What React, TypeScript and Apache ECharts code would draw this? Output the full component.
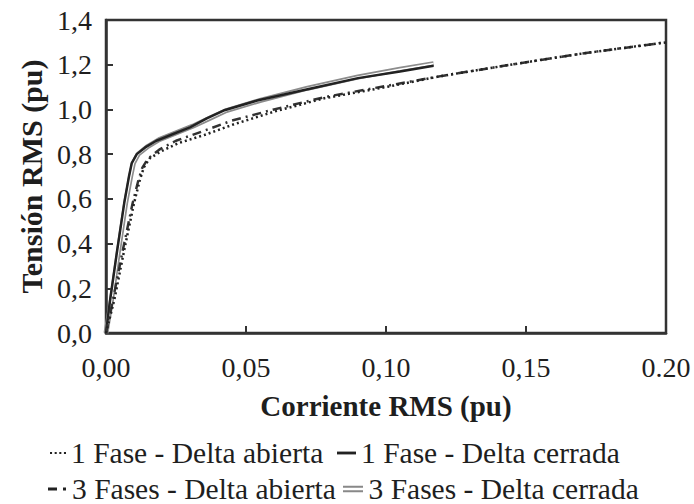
import React, { useEffect, useRef } from "react";
import * as echarts from "echarts";

const xTickLabels = ["0,00", "0,05", "0,10", "0,15", "0.20"];
const yTickLabels = ["0,0", "0,2", "0,4", "0,6", "0,8", "1,0", "1,2", "1,4"];

const corriente1FaseAbierta = [0, 0.003, 0.0065, 0.01, 0.012, 0.0135, 0.0155, 0.02, 0.026, 0.035, 0.046, 0.06, 0.078, 0.1, 0.12, 0.147, 0.17, 0.2];
const tension1FaseAbierta = [0, 0.15, 0.37, 0.58, 0.68, 0.74, 0.78, 0.815, 0.85, 0.885, 0.935, 0.99, 1.05, 1.1, 1.15, 1.205, 1.25, 1.3];

const corriente3FasesAbierta = [0, 0.0025, 0.006, 0.0095, 0.0115, 0.013, 0.015, 0.019, 0.025, 0.034, 0.045, 0.06, 0.078, 0.1, 0.12, 0.147, 0.17, 0.2];
const tension3FasesAbierta = [0, 0.15, 0.37, 0.58, 0.68, 0.74, 0.78, 0.82, 0.86, 0.9, 0.95, 1.0, 1.055, 1.105, 1.15, 1.205, 1.25, 1.3];

const corriente1FaseCerrada = [0, 0.0015, 0.004, 0.0065, 0.0082, 0.0092, 0.011, 0.014, 0.018, 0.024, 0.03, 0.036, 0.042, 0.054, 0.072, 0.09, 0.105, 0.117];
const tension1FaseCerrada = [0, 0.15, 0.37, 0.58, 0.7, 0.76, 0.8, 0.83, 0.86, 0.89, 0.92, 0.96, 0.995, 1.04, 1.09, 1.14, 1.17, 1.195];

const corriente3FasesCerrada = [0, 0.002, 0.0045, 0.007, 0.0088, 0.0098, 0.0115, 0.015, 0.019, 0.025, 0.031, 0.037, 0.043, 0.055, 0.072, 0.09, 0.105, 0.117];
const tension3FasesCerrada = [0, 0.15, 0.37, 0.58, 0.7, 0.76, 0.8, 0.835, 0.865, 0.895, 0.925, 0.96, 0.995, 1.04, 1.095, 1.145, 1.18, 1.205];

const NAME_1A = "1 Fase - Delta abierta";
const NAME_1C = "1 Fase - Delta cerrada";
const NAME_3A = "3 Fases - Delta abierta";
const NAME_3C = "3 Fases - Delta cerrada";

const pairs = (xs: number[], ys: number[]) => xs.map((x, i) => [x, ys[i]]);

const FONT = "Liberation Serif";
const INK = "#1e1e1e";

export default function App() {
  const ref = useRef<HTMLDivElement>(null);
  useEffect(() => {
    if (!ref.current) return;
    const chart = echarts.init(ref.current, undefined, { renderer: "svg" });
    const legendText = { fontFamily: FONT, fontSize: 29.5, color: INK, lineHeight: 30 };
    const oneLegend = (
      name: string,
      left: number,
      top: number,
      icon: string,
      w: number,
      h: number,
      gap: number,
      color: string
    ) => ({
      orient: "horizontal",
      left,
      top,
      icon,
      itemWidth: w,
      itemHeight: h,
      itemTextGap: gap,
      padding: 0,
      selectedMode: false,
      data: [name],
      textStyle: legendText,
      itemStyle: { color, borderWidth: 0 },
    });
    chart.setOption({
      animation: false,
      backgroundColor: "#ffffff",
      grid: {
        left: 106,
        right: 28,
        top: 20,
        bottom: 171,
        show: true,
        borderColor: "#333",
        borderWidth: 2.5,
      },
      xAxis: {
        type: "value",
        min: 0,
        max: 0.2,
        interval: 0.05,
        name: "Corriente RMS (pu)",
        nameLocation: "middle",
        nameGap: 58,
        nameTextStyle: { fontFamily: FONT, fontSize: 29, fontWeight: "bold", color: INK },
        axisLine: { show: true, lineStyle: { color: "#333", width: 2.5 } },
        axisTick: { show: true, inside: true, length: 7, lineStyle: { color: "#333", width: 2 } },
        splitLine: { show: false },
        axisLabel: {
          margin: 20,
          fontFamily: FONT,
          fontSize: 28,
          color: INK,
          formatter: (_v: number, i: number) => xTickLabels[i],
        },
      },
      yAxis: {
        type: "value",
        min: 0,
        max: 1.4,
        interval: 0.2,
        name: "Tensión RMS (pu)",
        nameLocation: "middle",
        nameGap: 60,
        nameTextStyle: { fontFamily: FONT, fontSize: 30, fontWeight: "bold", color: INK },
        axisLine: { show: true, lineStyle: { color: "#333", width: 2.5 } },
        axisTick: { show: true, inside: true, length: 7, lineStyle: { color: "#333", width: 2 } },
        splitLine: { show: false },
        axisLabel: {
          margin: 14,
          fontFamily: FONT,
          fontSize: 28,
          color: INK,
          formatter: (_v: number, i: number) => yTickLabels[i],
        },
      },
      legend: [
        oneLegend(NAME_1A, 50, 438, "path://M0,0h2v2h-2z M4.5,0h2v2h-2z M9,0h2v2h-2z M13.5,0h2v2h-2z", 16, 2.5, 3, "#222"),
        oneLegend(NAME_3A, 48, 474, "path://M0,0h9v3h-9z M15,0h3v3h-3z", 20, 3, 4, "#222"),
        oneLegend(NAME_1C, 337, 438, "path://M0,0h20v3h-20z", 19, 3, 2, "#222"),
        oneLegend(NAME_3C, 343, 474, "path://M0,0h20v2h-20z M0,4.5h20v2h-20z", 21, 6.5, 2, "#888"),
      ],
      series: [
        {
          name: NAME_3C,
          type: "line",
          showSymbol: false,
          symbol: "none",
          data: pairs(corriente3FasesCerrada, tension3FasesCerrada),
          itemStyle: { color: "#8c8c8c" },
          lineStyle: { color: "#8c8c8c", width: 5 },
          z: 2,
        },
        {
          name: "3 Fases - Delta cerrada (interior)",
          type: "line",
          showSymbol: false,
          symbol: "none",
          silent: true,
          data: pairs(corriente3FasesCerrada, tension3FasesCerrada),
          itemStyle: { color: "#ffffff" },
          lineStyle: { color: "#ffffff", width: 1.6 },
          z: 3,
        },
        {
          name: NAME_1C,
          type: "line",
          showSymbol: false,
          symbol: "none",
          data: pairs(corriente1FaseCerrada, tension1FaseCerrada),
          itemStyle: { color: "#222" },
          lineStyle: { color: "#222", width: 2.5 },
          z: 4,
        },
        {
          name: NAME_3A,
          type: "line",
          showSymbol: false,
          symbol: "none",
          data: pairs(corriente3FasesAbierta, tension3FasesAbierta),
          itemStyle: { color: "#333" },
          lineStyle: { color: "#333", width: 2.5, type: [9, 5, 2, 5] },
          z: 5,
        },
        {
          name: NAME_1A,
          type: "line",
          showSymbol: false,
          symbol: "none",
          data: pairs(corriente1FaseAbierta, tension1FaseAbierta),
          itemStyle: { color: "#222" },
          lineStyle: { color: "#222", width: 2.5, type: [2, 3] },
          z: 6,
        },
      ],
    });
    return () => chart.dispose();
  }, []);
  return (
    <div
      ref={ref}
      style={{ position: "fixed", left: 0, top: 0, width: 694, height: 504, background: "#fff" }}
    />
  );
}
